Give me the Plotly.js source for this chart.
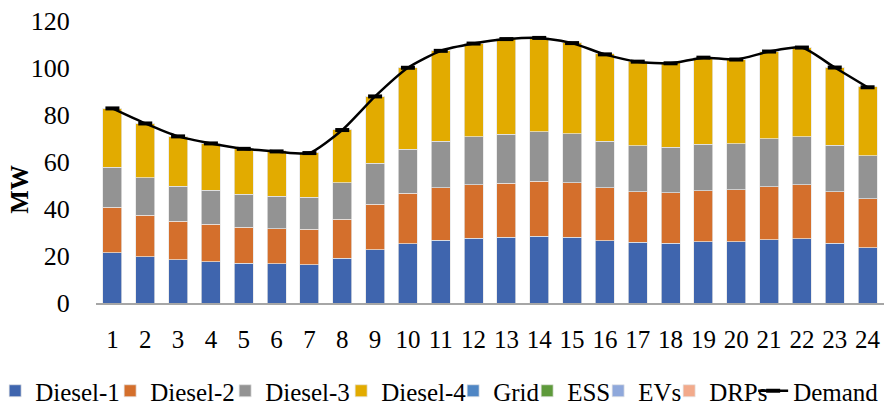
<!DOCTYPE html>
<html>
<head>
<meta charset="utf-8">
<script src="https://cdn.plot.ly/plotly-3.0.1.min.js"></script>
<style>html,body{margin:0;padding:0;background:#fff;}#chart{width:887px;height:410px;}</style>
</head>
<body>
<div id="chart"></div>
<script>
const hours = ["1","2","3","4","5","6","7","8","9","10","11","12","13","14","15","16","17","18","19","20","21","22","23","24"];
const diesel1 = [21.4,19.7,18.4,17.6,16.9,16.7,16.2,19.0,22.7,25.2,26.8,27.5,28.0,28.4,28.0,26.5,25.8,25.5,26.1,26.1,26.9,27.4,25.5,23.5];
const diesel2 = [19.3,17.6,16.4,15.9,15.3,14.9,15.2,16.7,19.3,21.5,22.3,22.9,22.9,23.4,23.1,22.6,21.6,21.4,21.7,22.1,22.6,23.0,21.9,20.8];
const diesel3 = [17.0,16.0,14.8,14.5,14.1,13.9,13.6,15.5,17.4,18.7,19.8,20.4,20.9,21.1,21.0,19.8,19.5,19.3,19.7,19.6,20.4,20.4,19.7,18.4];
const diesel4 = [25.1,23.1,21.4,20.0,19.5,19.2,18.9,22.5,28.6,34.8,38.6,39.8,40.8,40.1,38.8,37.1,36.0,36.0,37.1,36.0,37.3,38.1,33.3,29.3];
const grid = [0,0,0,0,0,0,0,0,0,0,0,0,0,0,0,0,0,0,0,0,0,0,0,0];
const ess = [0,0,0,0,0,0,0,0,0,0,0,0,0,0,0,0,0,0,0,0,0,0,0,0];
const evs = [0,0,0,0,0,0,0,0,0,0,0,0,0,0,0,0,0,0,0,0,0,0,0,0];
const drps = [0,0,0,0,0,0,0,0,0,0,0,0,0,0,0,0,0,0,0,0,0,0,0,0];
const demand = [82.8,76.4,70.9,67.9,65.6,64.5,63.8,73.6,87.9,100.1,107.3,110.4,112.3,112.8,110.6,105.8,102.7,102.0,104.4,103.6,107.0,108.7,100.2,91.8];
const yTicks = [0,20,40,60,80,100,120];

const colors = {
  d1:'#3f65ae', d2:'#d46f2c', d3:'#939393', d4:'#e2ab00',
  grid:'#4f86c4', ess:'#5e9a3b', evs:'#8fa8db', drps:'#f2aa8b'
};
const edge = {color:'rgba(230,230,230,0.9)', width:0.8};
function barTrace(name, vals, color, lw){
  return {type:'bar', name:name, x:hours, y:vals, marker:{color:color, line:edge}, legendwidth:lw, hoverinfo:'y+name'};
}
const traces = [
  barTrace('Diesel-1', diesel1, colors.d1, 70),
  barTrace('Diesel-2', diesel2, colors.d2, 70),
  barTrace('Diesel-3', diesel3, colors.d3, 71),
  barTrace('Diesel-4', diesel4, colors.d4, 67),
  barTrace('Grid', grid, colors.grid, 29),
  barTrace('ESS', ess, colors.ess, 26),
  barTrace('EVs', evs, colors.evs, 26),
  barTrace('DRPs', drps, colors.drps, 39),
  {type:'scatter', mode:'lines+markers', name:'Demand', x:hours, y:demand,
   line:{color:'#000', width:2.5, shape:'spline', smoothing:0.6},
   marker:{symbol:'line-ew-open', size:10, color:'#000', line:{color:'#000', width:4}},
   legendwidth:84}
];
const font = 'Liberation Serif, Times New Roman, serif';
const layout = {
  width:887, height:410,
  margin:{l:96, r:3, t:21, b:107, autoexpand:false},
  barmode:'stack', bargap:0.42,
  paper_bgcolor:'#fff', plot_bgcolor:'#fff',
  font:{family:font, size:26, color:'#000'},
  xaxis:{type:'category', range:[-0.5, 23.5], tickmode:'array', tickvals:hours, ticktext:hours,
         showline:true, linecolor:'#a6a6a6', linewidth:1.5,
         ticks:'outside', ticklen:13, tickcolor:'rgba(0,0,0,0)', showgrid:false, zeroline:false,
         tickfont:{family:font, size:25, color:'#000'}},
  yaxis:{range:[0,120], tickvals:yTicks, ticktext:yTicks.map(String), showline:false, showgrid:false, zeroline:false,
         ticks:'outside', ticklen:20, tickcolor:'rgba(0,0,0,0)',
         tickfont:{family:font, size:26, color:'#000'}},
  showlegend:true,
  legend:{orientation:'h', xref:'paper', x:-0.128, xanchor:'left', yref:'paper', y:-0.2305, yanchor:'top',
          font:{family:font, size:25, color:'#000'}, traceorder:'normal', bgcolor:'rgba(0,0,0,0)'},
  annotations:[{text:'<b>MW</b>', xref:'paper', yref:'paper', x:-0.0964, y:0.402, textangle:-90,
                showarrow:false, font:{family:font, size:25, color:'#000'}, xanchor:'center', yanchor:'middle'}]
};
Plotly.newPlot('chart', traces, layout, {displayModeBar:false, staticPlot:true});
</script>
</body>
</html>
